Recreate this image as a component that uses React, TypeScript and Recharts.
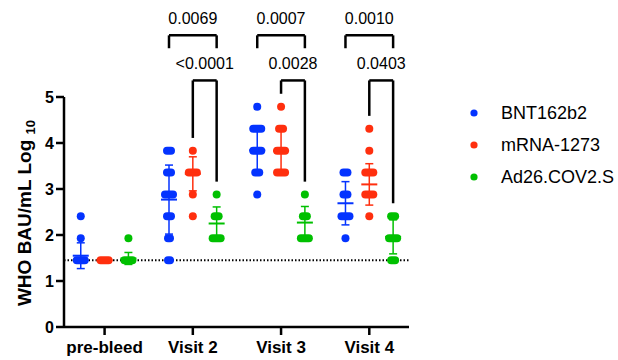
import { ScatterChart, Scatter, XAxis, YAxis, ErrorBar, ReferenceLine, Legend } from "recharts";

const font = "'Liberation Sans', Arial, sans-serif";

const groups = ["pre-bleed", "Visit 2", "Visit 3", "Visit 4"];
const vaccines = ["BNT162b2", "mRNA-1273", "Ad26.COV2.S"];
const colors = ["#0433ff", "#ff2f0e", "#00c000"];

// log10 WHO BAU/mL per visit: [level, samples at that level]
const bnt162b2: [number, number][][] = [
  [[2.41, 1], [1.93, 1], [1.45, 5]],
  [[3.83, 3], [3.36, 3], [2.88, 5], [2.41, 3], [1.93, 2], [1.45, 2]],
  [[4.79, 1], [4.31, 5], [3.83, 5], [3.36, 3], [2.88, 1]],
  [[3.36, 3], [2.88, 3], [2.41, 5], [1.93, 1]],
];
const mrna1273: [number, number][][] = [
  [[1.45, 5]],
  [[3.83, 1], [3.36, 5], [2.88, 1], [2.41, 1]],
  [[4.79, 1], [4.31, 3], [3.83, 5], [3.36, 5]],
  [[4.31, 1], [3.83, 1], [3.36, 5], [2.88, 5], [2.41, 1]],
];
const ad26: [number, number][][] = [
  [[1.93, 1], [1.45, 5]],
  [[2.88, 1], [2.41, 3], [1.93, 5]],
  [[2.88, 1], [2.41, 3], [1.93, 5]],
  [[2.41, 3], [1.93, 5], [1.45, 3]],
];

const bntMean = [1.55, 2.77, 3.84, 2.69];
const bntSd = [0.28, 0.75, 0.47, 0.47];
const mrnaMean = [1.45, 3.33, 3.83, 3.1];
const mrnaSd = [0, 0.37, 0.45, 0.45];
const adMean = [1.49, 2.25, 2.27, 1.96];
const adSd = [0.13, 0.36, 0.35, 0.37];

const lod = 1.45;
const yTicks = [0, 1, 2, 3, 4, 5];

// p values for visits 2-4
const pBntVsAd = ["0.0069", "0.0007", "0.0010"];
const pMrnaVsAd = ["<0.0001", "0.0028", "0.0403"];

const levels = [bnt162b2, mrna1273, ad26];
const means = [bntMean, mrnaMean, adMean];
const sds = [bntSd, mrnaSd, adSd];

const shift = 0.27;
const xOf = (g: number, v: number) => g + (v - 1) * shift;

const pointData = levels.map((lv, v) =>
  lv.flatMap((grp, g) => grp.map(([y, n]) => ({ x: xOf(g, v), y, n })))
);
const meanData = means.map((m, v) => m.map((y, g) => ({ x: xOf(g, v), y, sd: sds[v][g] })));

const topMax = (v: number, g: number) => Math.max(...levels[v][g].map((p) => p[0]));

const pill = (color: string) => (props: any) => {
  const { cx, cy, payload } = props;
  const w = 6 + 2 * payload.n;
  return <rect x={cx - w / 2} y={cy - 4} width={w} height={8} rx={4} fill={color} />;
};

const meanBar = (color: string) => (props: any) => {
  const { cx, cy } = props;
  return <line x1={cx - 8} x2={cx + 8} y1={cy} y2={cy} stroke={color} strokeWidth={2} />;
};

const YLabel = (props: any) => {
  const { viewBox } = props;
  const cx = viewBox.x + 11;
  const cy = viewBox.y + viewBox.height / 2 + 1;
  return (
    <text
      x={cx}
      y={cy}
      transform={`rotate(-90, ${cx}, ${cy})`}
      textAnchor="middle"
      fontFamily={font}
      fontWeight="bold"
      fontSize={19}
      fill="#000"
    >
      WHO BAU/mL Log{" "}
      <tspan fontSize={13} dy={4}>
        10
      </tspan>
    </text>
  );
};

const renderLegend = () => (
  <div style={{ position: "relative", width: 150, height: 100, fontFamily: font }}>
    {vaccines.map((name, i) => (
      <div key={name} style={{ position: "absolute", left: 0, top: i * 32, height: 20, display: "flex", alignItems: "center" }}>
        <svg width={8} height={8} style={{ marginLeft: 4 }}>
          <circle cx={4} cy={4} r={3.6} fill={colors[i]} />
        </svg>
        <span style={{ marginLeft: 23, fontSize: 18, color: "#000" }}>{name}</span>
      </div>
    ))}
  </div>
);

const line = { stroke: "#000", strokeWidth: 2.5, ifOverflow: "visible" as const };
const pLabel = (value: string) => ({ value, position: "top" as const, offset: 11, fontSize: 16, fill: "#000", fontFamily: font });

export default function App() {
  const brackets = [1, 2, 3].flatMap((g, i) => {
    const xB = xOf(g, 0);
    const xR = xOf(g, 1);
    const xG = xOf(g, 2);
    return [
      <ReferenceLine key={`t${g}`} {...line} segment={[{ x: xB, y: 6.34 }, { x: xG, y: 6.34 }]} label={pLabel(pBntVsAd[i])} />,
      <ReferenceLine key={`tl${g}`} {...line} segment={[{ x: xB, y: 6.34 }, { x: xB, y: 6.06 }]} />,
      <ReferenceLine key={`tr${g}`} {...line} segment={[{ x: xG, y: 6.34 }, { x: xG, y: 6.06 }]} />,
      <ReferenceLine key={`l${g}`} {...line} segment={[{ x: xR, y: 5.36 }, { x: xG, y: 5.36 }]} label={pLabel(pMrnaVsAd[i])} />,
      <ReferenceLine key={`ll${g}`} {...line} segment={[{ x: xR, y: 5.36 }, { x: xR, y: topMax(1, g) + 0.28 }]} />,
      <ReferenceLine key={`lr${g}`} {...line} segment={[{ x: xG, y: 5.36 }, { x: xG, y: topMax(2, g) + 0.28 }]} />,
    ];
  });

  return (
    <div style={{ position: "absolute", left: 0, top: 0, background: "#fff" }}>
      <ScatterChart width={618} height={360} margin={{ top: 97, right: 209, bottom: 3, left: 20 }}>
        <XAxis
          type="number"
          dataKey="x"
          domain={[-0.46, 3.45]}
          allowDataOverflow
          ticks={[0, 1, 2, 3]}
          tickFormatter={(v: number) => groups[v]}
          height={30}
          tickSize={8}
          tickMargin={6}
          axisLine={{ stroke: "#000", strokeWidth: 2.5 }}
          tickLine={{ stroke: "#000", strokeWidth: 2.5 }}
          tick={{ fill: "#000", fontSize: 17, fontWeight: "bold", fontFamily: font }}
        />
        <YAxis
          type="number"
          dataKey="y"
          domain={[0, 5]}
          allowDataOverflow
          ticks={yTicks}
          width={44}
          tickSize={8}
          tickMargin={2}
          axisLine={{ stroke: "#000", strokeWidth: 2.5 }}
          tickLine={{ stroke: "#000", strokeWidth: 2.5 }}
          tick={{ fill: "#000", fontSize: 16, fontWeight: "bold", fontFamily: font }}
          label={<YLabel />}
        />
        <ReferenceLine y={lod} stroke="#000" strokeWidth={2} strokeDasharray="1.5 2" />
        {vaccines.map((name, v) => (
          <Scatter key={name} name={name} data={pointData[v]} fill={colors[v]} shape={pill(colors[v])} isAnimationActive={false} />
        ))}
        {vaccines.map((name, v) => (
          <Scatter key={`m${name}`} data={meanData[v]} fill={colors[v]} shape={meanBar(colors[v])} isAnimationActive={false} legendType="none">
            <ErrorBar dataKey="sd" direction="y" width={4} stroke={colors[v]} strokeWidth={1.5} isAnimationActive={false} />
          </Scatter>
        ))}
        {brackets}
        <Legend
          layout="vertical"
          align="center"
          verticalAlign="middle"
          content={renderLegend}
          wrapperStyle={{ position: "absolute", left: 466, top: 103, width: 150 }}
        />
      </ScatterChart>
    </div>
  );
}
